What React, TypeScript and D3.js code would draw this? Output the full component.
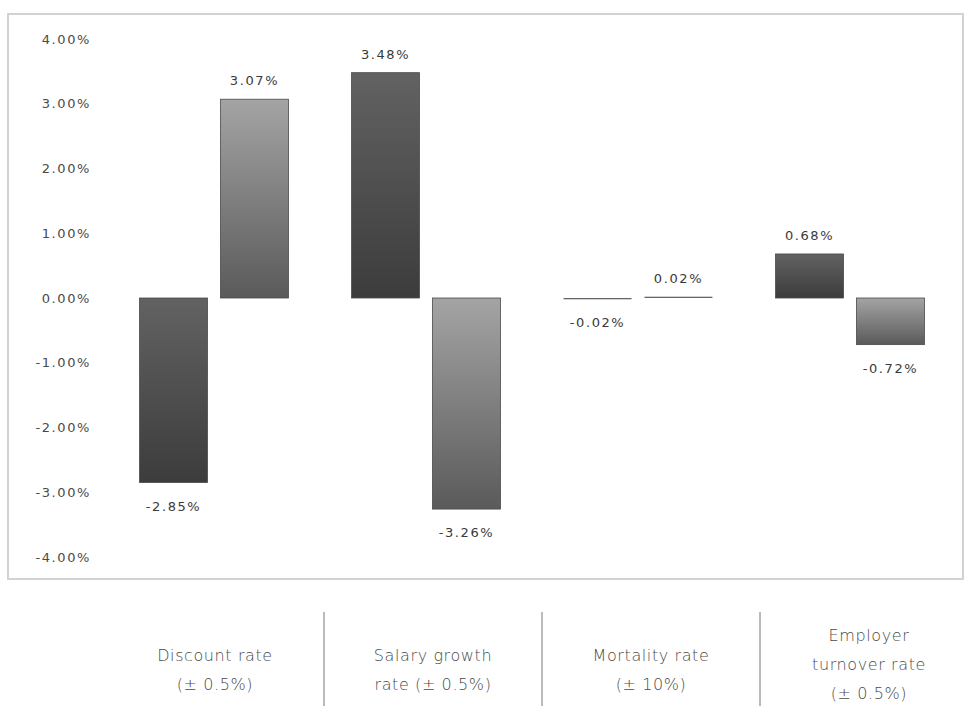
import React from "react";
import * as d3 from "d3";

// Sensitivity of the defined benefit obligation to key assumptions
const categories = ["discount", "salary", "mortality", "turnover"];
const categoryLines = [
  ["Discount rate", "(± 0.5%)"],
  ["Salary growth", "rate (± 0.5%)"],
  ["Mortality rate", "(± 10%)"],
  ["Employer", "turnover rate", "(± 0.5%)"],
];
const seriesKeys = ["increase", "decrease"];
const increaseValues = [-2.85, 3.48, -0.02, 0.68];
const decreaseValues = [3.07, -3.26, 0.02, -0.72];
const yTicks = [4, 3, 2, 1, 0, -1, -2, -3, -4];

const W = 968;
const H = 710;

// percentage with an ASCII hyphen for negatives
const pct = (v: number) => d3.format(".2f")(v).replace("\u2212", "-") + "%";

export default function App() {
  const y = d3.scaleLinear().domain([-4, 4]).range([557, 39]);
  const x0 = d3.scaleBand<string>().domain(categories).range([108, 956]).padding(0);
  const x1 = d3
    .scaleBand<string>()
    .domain(seriesKeys)
    .range([0, x0.bandwidth()])
    .paddingInner(0.16)
    .paddingOuter(0.39);
  const tableX = d3.scaleBand<string>().domain(categories).range([106, 978]);

  const rows = categories.map((c, i) => ({
    cat: c,
    values: [
      { key: "increase", v: increaseValues[i] },
      { key: "decrease", v: decreaseValues[i] },
    ],
  }));

  const font = "'DejaVu Sans', sans-serif";

  return (
    <svg
      width={W}
      height={H}
      style={{ position: "absolute", left: 0, top: 0, background: "#fff" }}
    >
      <defs>
        <linearGradient id="g-increase" x1="0" y1="0" x2="0" y2="1">
          <stop offset="0%" stopColor="#626262" />
          <stop offset="100%" stopColor="#3c3c3c" />
        </linearGradient>
        <linearGradient id="g-decrease" x1="0" y1="0" x2="0" y2="1">
          <stop offset="0%" stopColor="#a4a4a4" />
          <stop offset="100%" stopColor="#5a5a5a" />
        </linearGradient>
      </defs>

      {/* chart frame */}
      <rect x={8} y={14} width={955} height={565} fill="none" stroke="#d2d2d2" strokeWidth={2} />

      {/* y axis labels */}
      {yTicks.map((t) => (
        <text
          key={t}
          x={91}
          y={y(t)}
          dy="0.35em"
          textAnchor="end"
          fontFamily={font}
          fontSize={13}
          letterSpacing={1.6}
          fill="#4a4a4a"
        >
          {pct(t)}
        </text>
      ))}

      {/* bars and value labels */}
      {rows.map((r) => (
        <g key={r.cat} transform={`translate(${x0(r.cat)},0)`}>
          {r.values.map((d) => {
            const top = y(Math.max(0, d.v));
            const bottom = y(Math.min(0, d.v));
            const bx = x1(d.key)!;
            const bw = x1.bandwidth();
            const tiny = Math.abs(d.v) < 0.1;
            return (
              <g key={d.key}>
                <rect
                  x={bx}
                  y={top}
                  width={bw}
                  height={Math.max(bottom - top, 0)}
                  fill={tiny ? "#666" : `url(#g-${d.key})`}
                  stroke={tiny ? "none" : "#4a4a4a"}
                  strokeWidth={0.8}
                />
                <text
                  x={bx + bw / 2}
                  y={d.v >= 0 ? top - 14 : bottom + 28}
                  textAnchor="middle"
                  fontFamily={font}
                  fontSize={13}
                  letterSpacing={1.6}
                  fill="#3a3a3a"
                >
                  {pct(d.v)}
                </text>
              </g>
            );
          })}
        </g>
      ))}

      {/* category table below the chart */}
      {categories.slice(1).map((c) => (
        <line
          key={c}
          x1={tableX(c)}
          x2={tableX(c)}
          y1={612}
          y2={706}
          stroke="#777"
          strokeWidth={1}
        />
      ))}
      {categories.map((c, i) => {
        const lines = categoryLines[i];
        const cx = tableX(c)! + tableX.bandwidth() / 2;
        const lh = 29;
        const mid = lines.length > 2 ? 664 : 670;
        const start = mid - ((lines.length - 1) * lh) / 2;
        return (
          <text
            key={c}
            textAnchor="middle"
            fontFamily={font}
            fontSize={16}
            fontWeight={300}
            letterSpacing={0.6}
            fill="#4a4a4a"
          >
            {lines.map((l, j) => (
              <tspan key={j} x={cx} y={start + j * lh} dy="0.35em">
                {l}
              </tspan>
            ))}
          </text>
        );
      })}
    </svg>
  );
}
